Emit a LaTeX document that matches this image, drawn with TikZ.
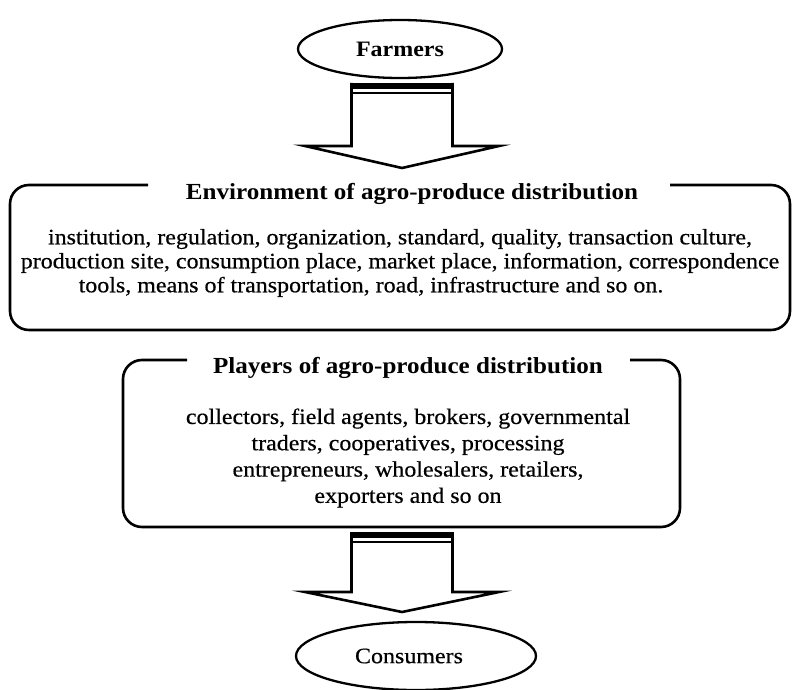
\documentclass[tikz,border=0pt]{standalone}
\usepackage{fontspec}
\setmainfont[FakeStretch=1.09]{Liberation Serif}
\newfontfamily\bodyfont[FakeStretch=1.09,FakeBold=0.5]{Liberation Serif}
\usetikzlibrary{shapes.geometric}
\begin{document}
\begin{tikzpicture}[x=1pt,y=-1pt]
\useasboundingbox (0,0) rectangle (792,690);
\tikzset{
  boxline/.style={line width=2.6pt, rounded corners=19pt},
  oval/.style={draw, ellipse, line width=2.3pt, inner sep=0pt},
  bodytext/.style={font=\bodyfont\fontsize{22}{24}\selectfont, align=center, inner sep=0pt},
  titletext/.style={font=\fontsize{23}{24}\selectfont\bfseries, inner sep=0pt, anchor=base},
  pics/blockarrow/.style 2 args={code={
    \fill (-50.5,0) rectangle (50.5,6);
    \draw[line width=2.2pt] (-50.5,10) -- (50.5,10);
    \draw[line width=2.6pt, line join=miter] (-50.5,0) -- (-50.5,#1) -- (-97,#1) -- (0,#2) -- (97,#1) -- (50.5,#1) -- (50.5,0);
  }}
}
% Farmers
\node[oval, minimum width=204pt, minimum height=58pt, font=\fontsize{22}{24}\selectfont\bfseries] (farmers) at (400,49) {Farmers};
\pic (toparrow) at (402,83) {blockarrow={63}{85}};
% Environment box
\draw[boxline] (148,185) -- (10,185) -- (10,330) -- (790,330) -- (790,185) -- (670,185);
\node[titletext] (envtitle) at (412,199) {Environment of agro-produce distribution};
\node[bodytext] (envbody) at (400,263) {institution, regulation, organization, standard, quality, transaction culture,\\ production site, consumption place, market place, information, correspondence\\ tools, means of transportation, road, infrastructure and so on.\hspace*{58pt}};
% Players box
\draw[boxline] (187,360) -- (123,360) -- (123,527) -- (680,527) -- (680,360) -- (630,360);
\node[titletext] (pltitle) at (408,373) {Players of agro-produce distribution};
\node[bodytext, font=\bodyfont\fontsize{22}{26.3}\selectfont] (plbody) at (408,458) {collectors, field agents, brokers, governmental\\ traders, cooperatives, processing\\ entrepreneurs, wholesalers, retailers,\\ exporters and so on};
\pic (botarrow) at (402,532) {blockarrow={60}{80}};
% Consumers
\node[oval, minimum width=240pt, minimum height=68pt, font=\bodyfont\fontsize{22}{24}\selectfont] (consumers) at (416,656) {\raisebox{-6pt}{Consumers}\hspace*{14pt}};
\end{tikzpicture}
\end{document}
